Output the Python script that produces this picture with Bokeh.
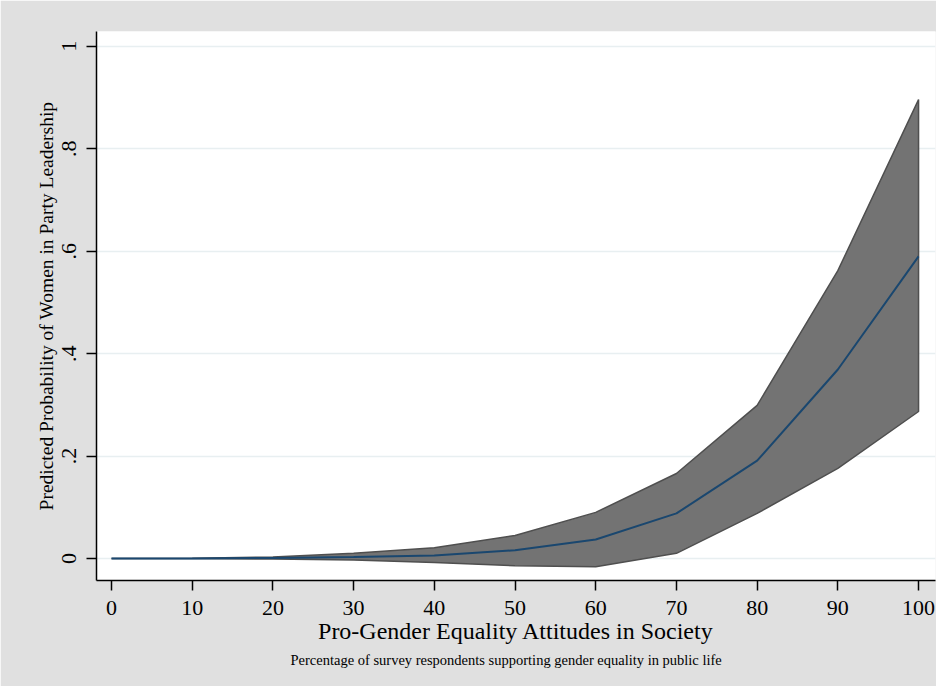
from bokeh.plotting import figure
from bokeh.models import Range1d, FixedTicker, Title
from bokeh.embed import file_html
from bokeh.resources import INLINE

# Data
attitudes = [0, 10, 20, 30, 40, 50, 60, 70, 80, 90, 100]
predicted = [0.0, 0.0002, 0.001, 0.003, 0.006, 0.016, 0.037, 0.088, 0.191, 0.369, 0.590]
upper_ci = [0.0, 0.0005, 0.003, 0.010, 0.021, 0.045, 0.090, 0.166, 0.299, 0.562, 0.896]
lower_ci = [0.0, -0.0002, -0.001, -0.003, -0.008, -0.014, -0.016, 0.010, 0.088, 0.176, 0.287]

y_ticks = [0, 0.2, 0.4, 0.6, 0.8, 1.0]
y_tick_labels = ["0", ".2", ".4", ".6", ".8", "1"]
x_ticks = [0, 10, 20, 30, 40, 50, 60, 70, 80, 90, 100]

FONT = "Liberation Serif"

p = figure(width=936, height=686,
           x_range=Range1d(-1.86, 102.1), y_range=Range1d(-0.043, 1.029),
           output_backend="svg", toolbar_location=None,
           min_border_left=96, min_border_right=1,
           min_border_top=31, min_border_bottom=106)

p.background_fill_color = "white"
p.border_fill_color = "#e0e0e0"
p.outline_line_color = None

# Confidence band
band_x = attitudes + attitudes[::-1]
band_y = upper_ci + lower_ci[::-1]
p.patch(band_x, band_y, fill_color="#737373", line_color="#4f4f4f", line_width=1.5)

# Predicted line
p.line(attitudes, predicted, line_color="#1a476f", line_width=2)

# Grid
p.xgrid.grid_line_color = None
p.ygrid.grid_line_color = "#e8eff1"
p.ygrid.grid_line_width = 1.5
p.ygrid.ticker = FixedTicker(ticks=y_ticks)

# Axes
for ax in (p.xaxis[0], p.yaxis[0]):
    ax.axis_line_color = "black"
    ax.axis_line_width = 1.5
    ax.major_tick_line_color = "black"
    ax.major_tick_line_width = 1.5
    ax.major_tick_out = 10
    ax.major_tick_in = 0
    ax.minor_tick_line_color = None
    ax.major_label_text_font = FONT
    ax.major_label_text_font_size = "22px"
    ax.major_label_text_color = "black"
    ax.axis_label_text_font = FONT
    ax.axis_label_text_font_style = "normal"
    ax.axis_label_text_color = "black"

p.xaxis.ticker = FixedTicker(ticks=x_ticks)
p.xaxis.major_label_standoff = 10
p.xaxis.axis_label = "Pro-Gender Equality Attitudes in Society"
p.xaxis.axis_label_text_font_size = "24px"
p.xaxis.axis_label_standoff = 0

p.yaxis.ticker = FixedTicker(ticks=y_ticks)
p.yaxis.major_label_overrides = {t: l for t, l in zip(y_ticks, y_tick_labels)}
p.yaxis.major_label_orientation = "vertical"
p.yaxis.major_label_standoff = 10
p.yaxis.axis_label = "Predicted Probability of Women in Party Leadership"
p.yaxis.axis_label_text_font_size = "19.5px"
p.yaxis.axis_label_standoff = 3

note = Title(text="Percentage of survey respondents supporting gender equality in public life",
             text_font=FONT, text_font_size="14.5px", text_font_style="normal",
             text_color="black", align="left", offset=194, standoff=7)
p.add_layout(note, "below")

open("out.html", "w").write(file_html(p, INLINE))
